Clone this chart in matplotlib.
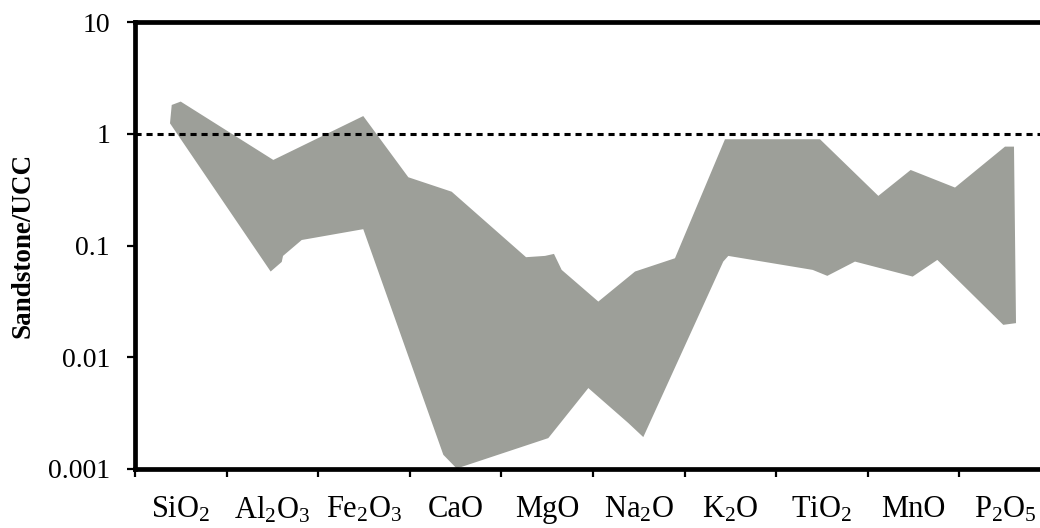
import numpy as np
import matplotlib
matplotlib.use('Agg')
import matplotlib.pyplot as plt
from matplotlib.ticker import FixedLocator

plt.rcParams['font.family'] = ['Liberation Serif', 'DejaVu Serif']
plt.rcParams['mathtext.fontset'] = 'custom'
plt.rcParams['mathtext.rm'] = 'Liberation Serif'
plt.rcParams['mathtext.it'] = 'Liberation Serif:italic'
plt.rcParams['mathtext.bf'] = 'Liberation Serif:bold'

# oxides (x axis categories)
oxides = [r'$\mathregular{SiO_2}$', r'$\mathregular{Al_2O_3}$', r'$\mathregular{Fe_2O_3}$',
          'CaO', 'MgO', r'$\mathregular{Na_2O}$', r'$\mathregular{K_2O}$',
          r'$\mathregular{TiO_2}$', 'MnO', r'$\mathregular{P_2O_5}$']
yticks = [0.001, 0.01, 0.1, 1, 10]
ytick_labels = ['0.001', '0.01', '0.1', '1', '10']

# envelope of sandstone/UCC ratios, category units along x
upper_x = [0.382, 0.401, 0.499, 1.510, 2.492, 2.984, 3.457, 4.269, 4.476, 4.574,
           4.658, 5.058, 5.459, 5.895, 6.441, 7.478, 8.115, 8.468, 8.952, 9.498,
           9.596, 9.618]
upper_y = [1.24, 1.81, 1.94, 0.583, 1.44, 0.408, 0.303, 0.0786, 0.0807, 0.0841,
           0.0605, 0.0315, 0.0585, 0.0769, 0.893, 0.893, 0.278, 0.474, 0.330,
           0.767, 0.767, 0.0202]
lower_x = [9.479, 9.424, 8.759, 8.490, 7.860, 7.558, 7.398, 6.477, 6.422, 5.549,
           5.385, 4.949, 4.512, 3.512, 3.366, 2.492, 1.820, 1.616, 1.602, 1.481]
lower_y = [0.0195, 0.0216, 0.0743, 0.0527, 0.0718, 0.0535, 0.0605, 0.0807,
           0.0718, 0.00193, 0.00258, 0.00530, 0.00189, 0.00101, 0.00134,
           0.140, 0.112, 0.0807, 0.0713, 0.0585]

ucc_ref = 1.0

fig = plt.figure(figsize=(10.4, 5.28), dpi=100)
ax = fig.add_axes([135 / 1040, 59 / 528, 916 / 1040, 447 / 528])

poly_x = upper_x + lower_x
poly_y = upper_y + lower_y
ax.fill(poly_x, poly_y, color='#9d9f99', lw=0, zorder=2)
ax.axhline(ucc_ref, color='black', lw=2.2, dashes=(2.0, 1.6), zorder=3)

ax.set_yscale('log')
ax.set_ylim(0.001, 10)
ax.set_xlim(0, 10)
ax.set_yticks(yticks)
ax.set_yticklabels(ytick_labels)
ax.yaxis.set_minor_locator(FixedLocator([]))

ax.set_xticks(np.arange(0, 11))
ax.set_xticklabels([])
ax.set_xticks(np.arange(len(oxides)) + 0.5, minor=True)
ax.set_xticklabels(oxides, minor=True)

ax.tick_params(axis='y', which='major', direction='out', length=6, width=1.6,
               pad=12, labelsize=20)
ax.tick_params(axis='x', which='major', direction='out', length=6, width=1.6)
ax.tick_params(axis='x', which='minor', length=0, pad=19, labelsize=22)

for side in ['left', 'bottom', 'top']:
    ax.spines[side].set_linewidth(3.4)
ax.spines['right'].set_visible(False)

ax.set_ylabel('Sandstone/UCC', fontsize=19.5, fontweight='bold', labelpad=9)

fig.savefig('out.png', dpi=100)
